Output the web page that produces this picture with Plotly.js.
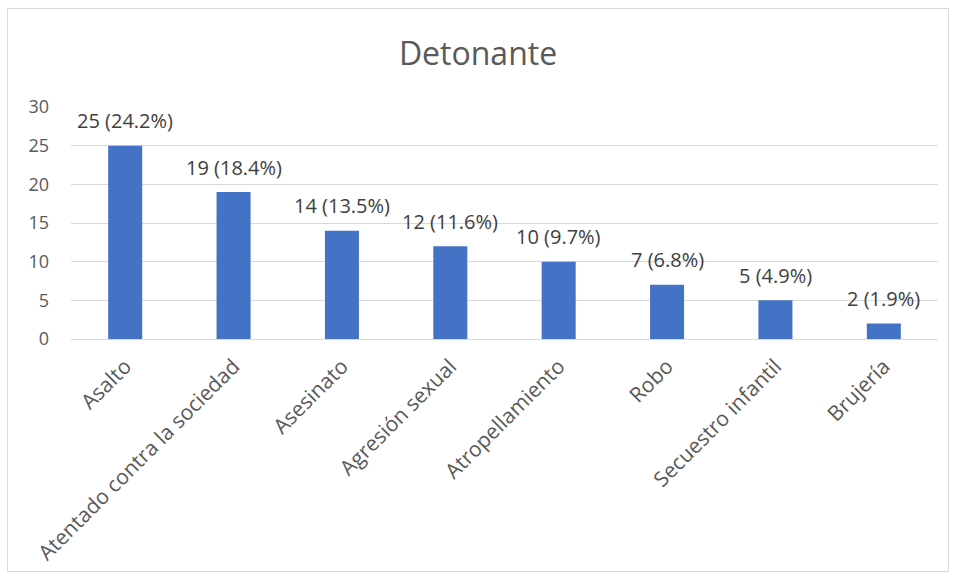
<!DOCTYPE html>
<html>
<head>
<meta charset="utf-8">
<script src="https://cdn.plot.ly/plotly-3.0.1.min.js"></script>
<style>
html,body{margin:0;padding:0;background:#fff;}
#frame{position:absolute;left:7px;top:8px;width:940px;height:562px;border:1px solid #d9d9d9;}
#chart{width:940px;height:562px;}
</style>
</head>
<body>
<div id="frame"><div id="chart"></div></div>
<script>
const categories = ["Asalto","Atentado contra la sociedad","Asesinato","Agresión sexual","Atropellamiento","Robo","Secuestro infantil","Brujería"];
const counts = [25,19,14,12,10,7,5,2];
const percents = ["24.2%","18.4%","13.5%","11.6%","9.7%","6.8%","4.9%","1.9%"];
const yTicks = [0,5,10,15,20,25,30];

const FONT = 'Open Sans, sans-serif';

const trace = {
  type: 'bar',
  x: categories,
  y: counts,
  marker: {color: '#4472c4'},
  hoverinfo: 'none'
};

const annotations = categories.map((c, i) => ({
  x: c, y: counts[i], xref: 'x', yref: 'y',
  text: counts[i] + ' (' + percents[i] + ')',
  showarrow: false, xanchor: 'center', yanchor: 'middle', yshift: 25,
  font: {family: FONT, size: 20, color: '#404040'}
}));

const layout = {
  width: 940, height: 562,
  margin: {l: 63, r: 10, t: 98, b: 232},
  paper_bgcolor: '#fff', plot_bgcolor: '#fff',
  bargap: 0.686,
  showlegend: false,
  annotations: annotations,
  title: {text: 'Detonante', x: 0.5, xanchor: 'center', y: 0.92, yanchor: 'middle',
          font: {family: FONT, size: 32, color: '#595959'}},
  xaxis: {
    tickangle: -45,
    tickfont: {family: FONT, size: 21, color: '#595959'},
    ticklabelstandoff: 10,
    showline: false, showgrid: false, zeroline: false, ticks: ''
  },
  yaxis: {
    range: [0, 30], tickvals: yTicks,
    tickfont: {family: FONT, size: 18, color: '#595959'},
    ticklabelstandoff: 21,
    gridcolor: '#d9d9d9', gridwidth: 1, zeroline: true, zerolinecolor: '#d9d9d9', zerolinewidth: 1,
    showline: false, ticks: '', automargin: false
  }
};

Plotly.newPlot('chart', [trace], layout, {displayModeBar: false, staticPlot: true});
</script>
</body>
</html>
